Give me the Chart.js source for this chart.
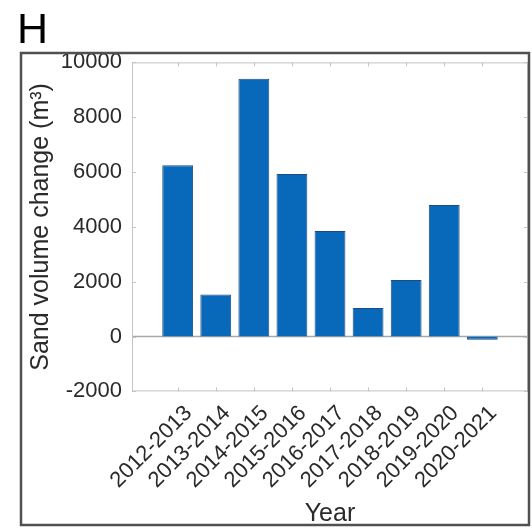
<!DOCTYPE html>
<html>
<head>
<meta charset="utf-8">
<title>Sand volume change</title>
<script src="https://cdn.jsdelivr.net/npm/chart.js@4/dist/chart.umd.min.js"></script>
<style>
    body { margin: 0; background: #fff; }
    canvas { display: block; }
</style>
</head>
<body>
<canvas id="sandChange" width="532" height="529"></canvas>
<script>
const years = ["2012-2013", "2013-2014", "2014-2015", "2015-2016", "2016-2017",
               "2017-2018", "2018-2019", "2019-2020", "2020-2021"];
const volumeChange = [6250, 1530, 9400, 5930, 3850, 1040, 2060, 4800, -120];
const yTicks = [-2000, 0, 2000, 4000, 6000, 8000, 10000];

const FONT = "'Liberation Sans', Arial, sans-serif";

// frame, zero line, inner tick marks and panel letter
const decorations = {
    id: "decorations",
    beforeDatasetsDraw(chart) {
        const { ctx, chartArea: a, scales } = chart;
        const y0 = scales.y.getPixelForValue(0);
        ctx.save();
        ctx.strokeStyle = "#a8a8a8";
        ctx.lineWidth = 1.5;
        ctx.beginPath();
        ctx.moveTo(a.left, y0);
        ctx.lineTo(a.right, y0);
        ctx.stroke();
        ctx.restore();
    },
    afterDraw(chart) {
        const { ctx, chartArea: a, scales } = chart;
        ctx.save();
        ctx.strokeStyle = "#c4c4c4";
        ctx.lineWidth = 1;
        ctx.strokeRect(a.left + 0.5, a.top + 0.5, a.right - a.left - 1, a.bottom - a.top - 1);

        ctx.beginPath();
        scales.x.ticks.forEach((t, i) => {
            const px = Math.round(scales.x.getPixelForTick(i)) + 0.5;
            ctx.moveTo(px, a.bottom); ctx.lineTo(px, a.bottom - 4);
            ctx.moveTo(px, a.top); ctx.lineTo(px, a.top + 4);
        });
        scales.y.ticks.forEach((t, i) => {
            const py = Math.round(scales.y.getPixelForTick(i)) + 0.5;
            ctx.moveTo(a.left, py); ctx.lineTo(a.left + 4, py);
            ctx.moveTo(a.right, py); ctx.lineTo(a.right - 4, py);
        });
        ctx.stroke();

        ctx.strokeStyle = "#505050";
        ctx.lineWidth = 2.5;
        ctx.strokeRect(21, 53, 508, 472);

        ctx.fillStyle = "#000";
        ctx.font = "43px " + FONT;
        ctx.textBaseline = "alphabetic";
        ctx.fillText("H", 17, 43);
        ctx.restore();
    }
};

const ctx = document.getElementById("sandChange");

new Chart(ctx, {
    type: "bar",
    data: {
        datasets: [
            {
                data: volumeChange.map((v, i) => ({ x: i + 1, y: v })),
                backgroundColor: "#0868b9",
                borderColor: "#1c4d7e",
                borderWidth: 1,
                barPercentage: 0.81,
                categoryPercentage: 1
            }
        ]
    },
    options: {
        responsive: false,
        animation: false,
        layout: { padding: { top: 62.4, right: 4, left: 0, bottom: 0 } },
        plugins: {
            legend: { display: false },
            tooltip: { enabled: false }
        },
        scales: {
            x: {
                type: "linear",
                offset: false,
                min: -0.2,
                max: 10.2,
                grid: { display: false, drawTicks: false },
                border: { display: false },
                afterBuildTicks: (scale) => {
                    scale.ticks = years.map((y, i) => ({ value: i + 1 }));
                },
                afterFit: (scale) => { scale.height = 137.6; },
                ticks: {
                    autoSkip: false,
                    minRotation: 45,
                    maxRotation: 45,
                    padding: 9,
                    labelOffset: 11,
                    color: "#2a2a2a",
                    font: { family: FONT, size: 22 },
                    callback: (v) => years[v - 1] || ""
                },
                title: {
                    display: true,
                    text: "Year",
                    color: "#2a2a2a",
                    font: { family: FONT, size: 25, lineHeight: 1.2 },
                    padding: { top: 0, bottom: 0 }
                }
            },
            y: {
                min: -2000,
                max: 10000,
                grid: { display: false, drawTicks: false },
                border: { display: false },
                afterBuildTicks: (scale) => {
                    scale.ticks = yTicks.map((v) => ({ value: v }));
                },
                afterFit: (scale) => { scale.width = 132; },
                ticks: {
                    padding: 10,
                    color: "#2a2a2a",
                    font: { family: FONT, size: 22 },
                    callback: (v) => String(v)
                },
                title: {
                    display: true,
                    text: "Sand volume change (m³)",
                    color: "#2a2a2a",
                    font: { family: FONT, size: 25, lineHeight: 1.2 },
                    padding: { top: 26, bottom: 0 }
                }
            }
        }
    },
    plugins: [decorations]
});
</script>
</body>
</html>
